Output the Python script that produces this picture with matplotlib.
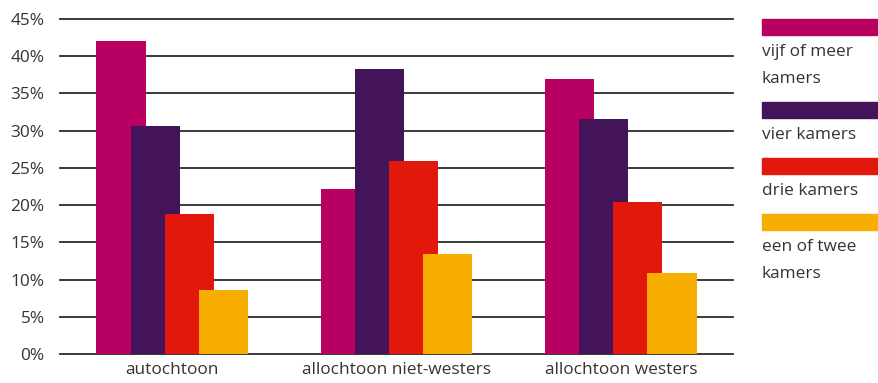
import matplotlib
matplotlib.use("Agg")
import matplotlib.pyplot as plt
import numpy as np
from matplotlib.patches import Rectangle

categories = ["autochtoon", "allochtoon niet-westers", "allochtoon westers"]
series_names = ["vijf of meer\nkamers", "vier kamers", "drie kamers", "een of twee\nkamers"]
vijf_of_meer = [42.0, 22.1, 36.9]
vier = [30.6, 38.3, 31.6]
drie = [18.8, 25.9, 20.4]
een_of_twee = [8.6, 13.4, 10.9]
yticks = [0, 5, 10, 15, 20, 25, 30, 35, 40, 45]
ytick_labels = [f"{v}%" for v in yticks]

colors = ["#B80063", "#44145A", "#E3180C", "#F8AE00"]
series = [vijf_of_meer, vier, drie, een_of_twee]

plt.rcParams['font.family'] = ['Open Sans', 'DejaVu Sans']
FS = 12.4
W, H = 879, 383
fig = plt.figure(figsize=(W / 100, H / 100), dpi=100)
ax = fig.add_axes([60 / W, (H - 354) / H, (733 - 60) / W, (354 - 19) / H])

x = np.arange(len(categories))
step = 0.152
width = 0.219
for i, (vals, c) in enumerate(zip(series, colors)):
    ax.bar(x + (i - 1.5) * step, vals, width=width, color=c, zorder=3 + i, linewidth=0)

ax.set_xlim(-0.5, 2.5)
ax.set_ylim(0, 45)
ax.set_yticks(yticks)
ax.set_yticklabels(ytick_labels)
ax.set_xticks(x)
ax.set_xticklabels(categories)
for s in ax.spines.values():
    s.set_visible(False)
ax.tick_params(length=0, labelsize=FS, colors="#333333")
ax.tick_params(axis='y', pad=11)
ax.tick_params(axis='x', pad=6)
ax.set_axisbelow(True)
for yv in yticks:
    ax.axhline(yv, color="#2b2b2b", linewidth=1.3, zorder=1, clip_on=False)

# legend
patch_tops = [19, 102, 158, 214]
for name, c, top in zip(series_names, colors, patch_tops):
    fig.patches.append(Rectangle((762 / W, (H - top - 16) / H), 117 / W, 16 / H,
                                 transform=fig.transFigure, color=c, figure=fig))
    fig.text(762 / W, (H - top - 25) / H, name, ha='left', va='top', fontsize=FS,
             color="#333333", linespacing=1.95)

fig.savefig("out.png", dpi=100)
